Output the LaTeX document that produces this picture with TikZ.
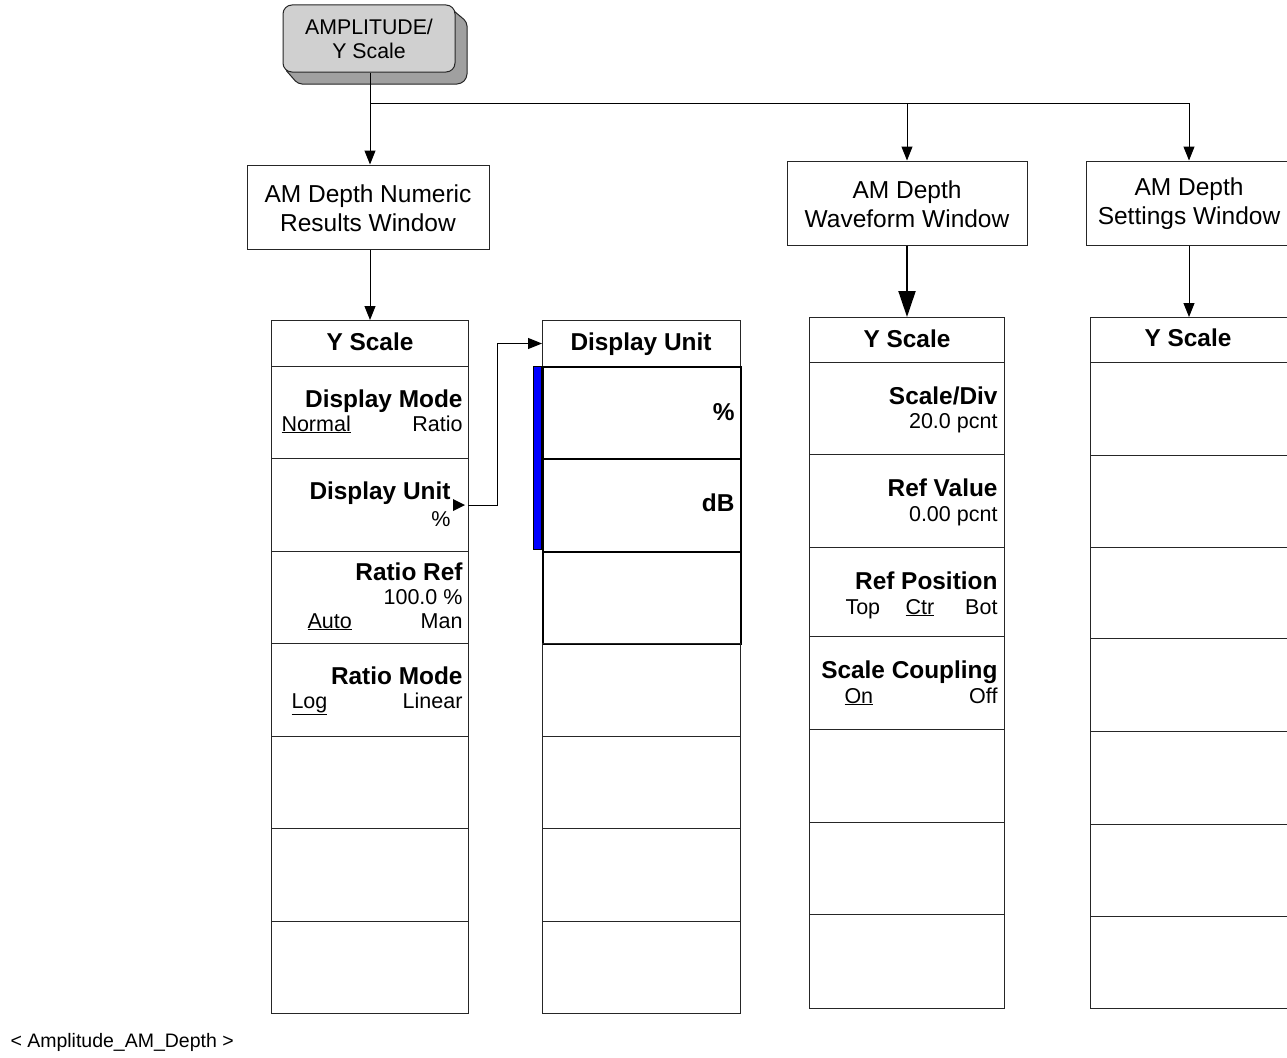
\documentclass[tikz,border=0pt]{standalone}
\usepackage{fontspec}
\setmainfont{Liberation Sans}
\usetikzlibrary{arrows.meta}
\definecolor{keyface}{HTML}{D0D0D0}
\definecolor{keyside}{HTML}{A0A0A0}
\definecolor{barblue}{HTML}{0000FF}
\begin{document}
\begin{tikzpicture}[x=1pt,y=-1pt,line width=1pt,
  bt/.style={font=\fontsize{24.4}{27}\selectfont\bfseries, inner sep=0pt},
  vt/.style={font=\fontsize{21.5}{24}\selectfont, inner sep=0pt},
  wt/.style={font=\fontsize{24.5}{29}\selectfont, inner sep=0pt, align=center},
  win/.style={draw=black!85, fill=white, inner sep=0pt},
  cell/.style={draw=black!85, inner sep=0pt, anchor=north west},
  thickcell/.style={draw=black, line width=2pt, inner sep=0pt, anchor=north west},
  arr/.style={-{Triangle[length=14pt,width=11pt]}},
  bigarr/.style={line width=2pt,-{Triangle[length=26pt,width=17pt]}},
  keybox/.style={draw=black!85, fill=keyface, rounded corners=9pt, minimum width=172pt, minimum height=67pt, inner sep=0pt, align=center, font=\fontsize{21.3}{24}\selectfont}
]
\useasboundingbox (0,0) rectangle (1287,1057);
\fill[white] (0,0) rectangle (1287,1057);
\clip (0,0) rectangle (1287,1057);

% ---- top key
\draw[fill=keyside, draw=black!85, rounded corners=4pt] (448,6) -- (467,22) -- (467,78) -- (461,84) -- (298,84) -- (284,68) -- cycle;
\node[keybox] (key) at (369,38.5) {AMPLITUDE/\\Y Scale};

% ---- windows
\node[win, minimum width=242pt, minimum height=84pt] (win1) at (368,207) {};
\node[wt] (win1t) at (368,208) {AM Depth Numeric\\Results Window};
\node[win, minimum width=240pt, minimum height=84pt] (win2) at (907,203) {};
\node[wt] (win2t) at (907,204) {AM Depth\\Waveform Window};
\node[win, minimum width=206pt, minimum height=84pt] (win3) at (1189,203) {};
\node[wt] (win3t) at (1189,204) {AM Depth\\Settings Window};

% ---- connectors from the key
\coordinate (j1) at (370,103);
\coordinate (j2) at (907,103);
\coordinate (j3) at (1189,103);
\draw (key.south -| j1) -- (j1) -- (j3);
\draw[arr] (j1) -- (j1 |- win1.north);
\draw[arr] (j2) -- (win2.north);
\draw[arr] (j3) -- (win3.north);

% ---- column 1
\node[cell, minimum width=197pt, minimum height=46pt] (c1t) at (271,320) {};
\node[cell, minimum width=197pt, minimum height=92pt] (c1r1) at (271,366) {};
\node[cell, minimum width=197pt, minimum height=93pt] (c1r2) at (271,458) {};
\node[cell, minimum width=197pt, minimum height=92pt] (c1r3) at (271,551) {};
\node[cell, minimum width=197pt, minimum height=93pt] (c1r4) at (271,643) {};
\node[cell, minimum width=197pt, minimum height=92pt] (c1r5) at (271,736) {};
\node[cell, minimum width=197pt, minimum height=93pt] (c1r6) at (271,828) {};
\node[cell, minimum width=197pt, minimum height=92pt] (c1r7) at (271,921) {};

\node[bt, anchor=base] (c1tt) at (370,350) {Y Scale};
\node[bt, anchor=base east] (dm) at (463,407) {Display Mode};
\node[vt, anchor=base west] (dmn) at (281,431) {\underline{Normal}};
\node[vt, anchor=base east] (dmr) at (463,431) {Ratio};
\node[bt, anchor=base east] (du) at (451,499) {Display Unit};
\node[vt, anchor=base east] (dup) at (451,526) {\%};
\node[bt, anchor=base east] (rr) at (463,580) {Ratio Ref};
\node[vt, anchor=base east] (rrv) at (463,604) {100.0 \%};
\node[vt, anchor=base west] (rra) at (307,628) {\underline{Auto}};
\node[vt, anchor=base east] (rrm) at (463,628) {Man};
\node[bt, anchor=base east] (rm) at (463,684) {Ratio Mode};
\node[vt, anchor=base west] (rml) at (291,708) {\underline{Log}};
\node[vt, anchor=base east] (rmn) at (463,708) {Linear};
% submenu triangle
\fill (453,499) -- (465,505) -- (453,511) -- cycle;
\coordinate (dutip) at (468,505);

% ---- column 2
\node[cell, minimum width=198pt, minimum height=46pt] (c2t) at (542,320) {};
\node[thickcell, minimum width=198pt, minimum height=92pt] (c2r1) at (542,366) {};
\node[thickcell, minimum width=198pt, minimum height=93pt] (c2r2) at (542,458) {};
\node[thickcell, minimum width=198pt, minimum height=92pt] (c2r3) at (542,551) {};
\node[cell, minimum width=198pt, minimum height=93pt] (c2r4) at (542,643) {};
\node[cell, minimum width=198pt, minimum height=92pt] (c2r5) at (542,736) {};
\node[cell, minimum width=198pt, minimum height=93pt] (c2r6) at (542,828) {};
\node[cell, minimum width=198pt, minimum height=92pt] (c2r7) at (542,921) {};
\fill[barblue, draw=black, line width=0.8pt] (533,366) rectangle (541,549);
\node[bt, anchor=base] (c2tt) at (641,350) {Display Unit};
\node[bt, anchor=base east] (pc) at (735,420) {\%};
\node[bt, anchor=base east] (db) at (735,511) {dB};

\draw[arr] (dutip) -- ++(29,0) |- (c2t.west);

% ---- column 3
\node[cell, minimum width=195pt, minimum height=45pt] (c3t) at (809,317) {};
\node[cell, minimum width=195pt, minimum height=92pt] (c3r1) at (809,362) {};
\node[cell, minimum width=195pt, minimum height=93pt] (c3r2) at (809,454) {};
\node[cell, minimum width=195pt, minimum height=89pt] (c3r3) at (809,547) {};
\node[cell, minimum width=195pt, minimum height=93pt] (c3r4) at (809,636) {};
\node[cell, minimum width=195pt, minimum height=93pt] (c3r5) at (809,729) {};
\node[cell, minimum width=195pt, minimum height=92pt] (c3r6) at (809,822) {};
\node[cell, minimum width=195pt, minimum height=94pt] (c3r7) at (809,914) {};
\node[bt, anchor=base] (c3tt) at (907,347) {Y Scale};
\node[bt, anchor=base east] (sd) at (998,404) {Scale/Div};
\node[vt, anchor=base east] (sdv) at (998,428) {20.0 pcnt};
\node[bt, anchor=base east] (rv) at (998,496) {Ref Value};
\node[vt, anchor=base east] (rvv) at (998,521) {0.00 pcnt};
\node[bt, anchor=base east] (rp) at (998,589) {Ref Position};
\node[vt, anchor=base west] (rpt) at (845,614) {Top};
\node[vt, anchor=base west] (rpc) at (905,614) {\underline{Ctr}};
\node[vt, anchor=base east] (rpb) at (998,614) {Bot};
\node[bt, anchor=base east] (sc) at (998,678) {Scale Coupling};
\node[vt, anchor=base west] (sco) at (844,703) {\underline{On}};
\node[vt, anchor=base east] (scf) at (998,703) {Off};

% ---- column 4
\node[cell, minimum width=199pt, minimum height=45pt] (c4t) at (1090,317) {};
\node[cell, minimum width=199pt, minimum height=93pt] (c4r1) at (1090,362) {};
\node[cell, minimum width=199pt, minimum height=92pt] (c4r2) at (1090,455) {};
\node[cell, minimum width=199pt, minimum height=91pt] (c4r3) at (1090,547) {};
\node[cell, minimum width=199pt, minimum height=93pt] (c4r4) at (1090,638) {};
\node[cell, minimum width=199pt, minimum height=93pt] (c4r5) at (1090,731) {};
\node[cell, minimum width=199pt, minimum height=92pt] (c4r6) at (1090,824) {};
\node[cell, minimum width=199pt, minimum height=92pt] (c4r7) at (1090,916) {};
\node[bt, anchor=base] (c4tt) at (1188,346) {Y Scale};

% ---- window to menu connectors
\draw[arr] (win1.south -| j1) -- (j1 |- c1t.north);
\draw[bigarr] (win2.south) -- (c3t.north -| win2.south);
\draw[arr] (win3.south) -- (c4t.north -| win3.south);

% ---- footer
\node[font=\fontsize{19.5}{22}\selectfont, inner sep=0pt, anchor=base west] (foot) at (10,1047) {< Amplitude\_AM\_Depth >};
\end{tikzpicture}
\end{document}
